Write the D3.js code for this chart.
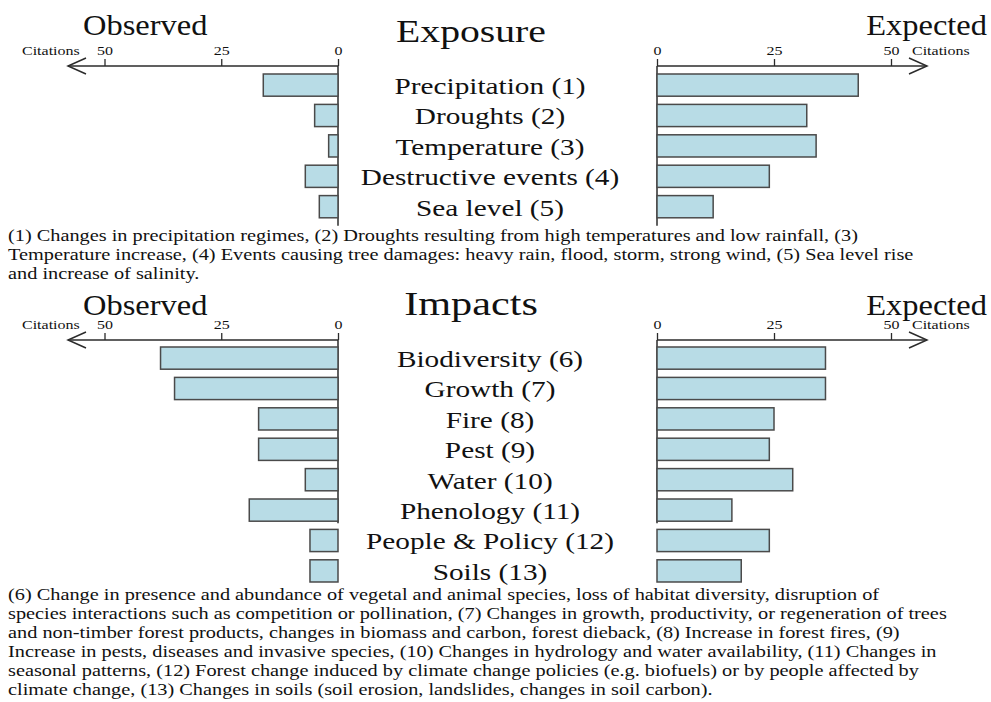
<!DOCTYPE html>
<html>
<head>
<meta charset="utf-8">
<script src="https://cdn.jsdelivr.net/npm/d3@7"></script>
<style>
  body { margin: 0; background: #fff; }
  svg { display: block; }
  svg text { font-family: "Liberation Serif", "Times New Roman", serif; fill: #111; }
</style>
</head>
<body>
<div id="chart"></div>
<script>
const width = 991;
const height = 702;

// data
var exposureCats = ["Precipitation (1)", "Droughts (2)", "Temperature (3)", "Destructive events (4)", "Sea level (5)"];
var exposureObserved = [16, 5, 2, 7, 4];
var exposureExpected = [43, 32, 34, 24, 12];

var impactCats = ["Biodiversity (6)", "Growth (7)", "Fire (8)", "Pest (9)", "Water (10)", "Phenology (11)", "People & Policy (12)", "Soils (13)"];
var impactObserved = [38, 35, 17, 17, 7, 19, 6, 6];
var impactExpected = [36, 36, 25, 24, 29, 16, 24, 18];

var tickValues = [0, 25, 50];

var exposureNotes = [
  "(1) Changes in precipitation regimes, (2) Droughts resulting from high temperatures and low rainfall, (3)",
  "Temperature increase, (4) Events causing tree damages: heavy rain, flood, storm, strong wind, (5) Sea level rise",
  "and increase of salinity."
];
var impactNotes = [
  "(6) Change in presence and abundance of  vegetal and animal species,  loss of habitat diversity, disruption of",
  "species interactions such as competition or pollination, (7) Changes in growth, productivity, or regeneration of trees",
  "and non-timber forest products, changes in biomass and carbon, forest dieback, (8) Increase in forest fires, (9)",
  "Increase in pests, diseases and invasive species, (10) Changes in hydrology and water availability, (11) Changes in",
  "seasonal patterns, (12) Forest change induced by climate change policies (e.g. biofuels) or by people affected by",
  "climate change, (13) Changes in soils (soil erosion, landslides, changes in soil carbon)."
];

var bar_fill = '#b8dce6';
var bar_stroke = '#4a4a4a';
var axis_color = '#2b2b2b';

// the original figure is a bit wider than tall, so text is stretched sideways
function place(sel, x, y, sx) {
  return sel.attr("transform", "translate(" + x + "," + y + ") scale(" + sx + ",1)");
}

var svg = d3.select("#chart").append("svg")
  .attr("width", width)
  .attr("height", height);

var xLeft = d3.scaleLinear().domain([0, 50]).range([338, 104.5]);
var xRight = d3.scaleLinear().domain([0, 50]).range([657, 891]);

function panel(opts) {
  var g = svg.append("g");
  var n = opts.cats.length;
  var step = 30.4;
  var y = d3.scaleBand()
    .domain(opts.cats)
    .range([opts.barTop, opts.barTop + step * (n - 0.27)])
    .paddingInner(0.27)
    .paddingOuter(0);

  // titles
  place(g.append("text"), 471, opts.axisY + opts.titleDy, 1.28)
    .attr("text-anchor", "middle").attr("font-size", opts.titleSize).text(opts.title);
  place(g.append("text"), 83, opts.axisY + opts.obsDy, 1.12)
    .attr("font-size", 29).text("Observed");
  place(g.append("text"), 987, opts.axisY + opts.obsDy, 1.12)
    .attr("text-anchor", "end").attr("font-size", 29).text("Expected");

  // axes
  [xLeft, xRight].forEach(function(x, side) {
    var ax = g.append("g")
      .attr("transform", "translate(0," + opts.axisY + ")")
      .call(d3.axisTop(x).tickValues(tickValues).tickSize(7).tickPadding(4));
    ax.attr("font-family", null).attr("font-size", null);
    ax.select(".domain").remove();
    ax.selectAll(".tick line").attr("stroke", axis_color).attr("stroke-width", 1.3);
    ax.selectAll(".tick text")
      .attr("y", null).attr("dy", null)
      .attr("font-size", 13)
      .attr("transform", "translate(0,-11) scale(1.23,1)");

    var end = side === 0 ? 68 : 927;
    var dir = side === 0 ? 1 : -1;
    g.append("line")
      .attr("x1", x(0)).attr("x2", end)
      .attr("y1", opts.axisY).attr("y2", opts.axisY)
      .attr("stroke", axis_color).attr("stroke-width", 1.5);
    g.append("path")
      .attr("d", "M" + (end + dir * 18) + "," + (opts.axisY - 8) + "L" + end + "," + opts.axisY + "L" + (end + dir * 18) + "," + (opts.axisY + 8))
      .attr("fill", "none").attr("stroke", axis_color).attr("stroke-width", 1.5);
    place(g.append("text"), side === 0 ? 22 : 912, opts.axisY - 11, 1.23)
      .attr("font-size", 13).text("Citations");

    // vertical baseline
    var lastCat = opts.cats[opts.axisCount - 1];
    g.append("line")
      .attr("x1", x(0)).attr("x2", x(0))
      .attr("y1", opts.axisY).attr("y2", y(lastCat) + y.bandwidth() + opts.axisExtra)
      .attr("stroke", axis_color).attr("stroke-width", 1.5);
  });

  // bars
  g.append("g").selectAll("rect")
    .data(opts.obs)
    .enter().append("rect")
    .attr("x", function(d) { return xLeft(d); })
    .attr("y", function(d, i) { return y(opts.cats[i]); })
    .attr("width", function(d) { return xLeft(0) - xLeft(d); })
    .attr("height", y.bandwidth())
    .attr("fill", bar_fill).attr("stroke", bar_stroke).attr("stroke-width", 1.5);

  g.append("g").selectAll("rect")
    .data(opts.exp)
    .enter().append("rect")
    .attr("x", xRight(0))
    .attr("y", function(d, i) { return y(opts.cats[i]); })
    .attr("width", function(d) { return xRight(d) - xRight(0); })
    .attr("height", y.bandwidth())
    .attr("fill", bar_fill).attr("stroke", bar_stroke).attr("stroke-width", 1.5);

  // category labels
  g.append("g").selectAll("text")
    .data(opts.cats)
    .enter().append("text")
    .attr("transform", function(d) {
      return "translate(490," + (y(d) + y.bandwidth() / 2 + 9) + ") scale(1.22,1)";
    })
    .attr("text-anchor", "middle")
    .attr("font-size", 24)
    .text(function(d) { return d; });

  // footnotes
  g.append("g").selectAll("text")
    .data(opts.notes)
    .enter().append("text")
    .attr("transform", function(d, i) {
      return "translate(8," + (opts.noteY + i * 19) + ") scale(1.27,1)";
    })
    .attr("font-size", 16)
    .text(function(d) { return d; });
}

panel({
  title: "Exposure", titleSize: 31, cats: exposureCats, obs: exposureObserved, exp: exposureExpected,
  axisY: 66, barTop: 74, titleDy: -24, obsDy: -31, axisCount: 5, axisExtra: 8,
  notes: exposureNotes, noteY: 241
});

panel({
  title: "Impacts", titleSize: 33, cats: impactCats, obs: impactObserved, exp: impactExpected,
  axisY: 340, barTop: 347, titleDy: -25, obsDy: -25, axisCount: 6, axisExtra: 2,
  notes: impactNotes, noteY: 600
});
</script>
</body>
</html>
